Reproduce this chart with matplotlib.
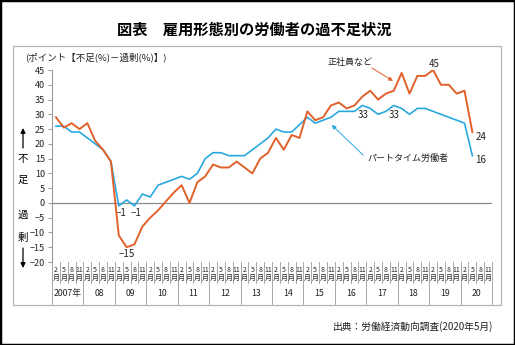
import numpy as np
import matplotlib.pyplot as plt
from matplotlib.patches import Rectangle

plt.rcParams['font.family'] = ['Noto Sans CJK JP', 'DejaVu Sans']

# quarterly survey months, 2007-02 .. 2020-05
years = list(range(2007, 2021))
months = [2, 5, 8, 11]
year_labels = ['2007年'] + [f'{y % 100:02d}' for y in years[1:]]

# 正社員など (points: 不足% - 過剰%)
regular = [29, 25.5, 27, 25, 27, 21, 18, 14,
           -11, -15, -14, -8, -5, -2.5, 0.5, 3.5,
           6, 0, 7, 9, 13, 12, 12, 14,
           12, 10, 15, 17, 22, 18, 23, 22,
           31, 28, 29, 33, 34, 32, 33, 36,
           38, 35, 37, 38, 44, 37, 43, 43,
           45, 40, 40, 37, 38, 24]

# パートタイム労働者
parttime = [26, 26, 24, 24, 22, 20, 18, 14,
            -1, 1, -1, 3, 2, 6, 7, 8,
            9, 8, 10, 15, 17, 17, 16, 16,
            16, 18, 20, 22, 25, 24, 24, 26.5,
            29, 27, 28, 29, 31, 31, 31, 33,
            32, 30, 31, 33, 32, 30, 32, 32,
            31, 30, 29, 28, 27, 16]

ORANGE = '#e0612b'
BLUE = '#29a8df'
GREY = '#9a9a9a'

W, H = 515, 345
fig = plt.figure(figsize=(W / 100, H / 100), dpi=100)


def fx(px):
    return px / W


def fy(py):
    return 1 - py / H


ax = fig.add_axes([fx(52), fy(262), fx(440), 192 / H])

x = np.arange(len(regular))
ax.axhline(0, color='#8a8a8a', lw=0.9, zorder=1)
ax.plot(x, parttime, color=BLUE, lw=1.2, zorder=3)
ax.plot(x, regular, color=ORANGE, lw=1.4, zorder=4)

ax.set_xlim(-0.5, len(years) * 4 - 0.5)
ax.set_ylim(-20, 45)
ax.set_yticks(np.arange(-20, 46, 5))
ax.set_xticks([])
for s in ['top', 'right', 'bottom']:
    ax.spines[s].set_visible(False)
ax.spines['left'].set_color(GREY)
ax.spines['left'].set_linewidth(0.8)
ax.tick_params(axis='y', length=3, width=0.7, color=GREY, labelsize=6.5,
               pad=2, labelcolor='#222222')


def fmt(v):
    return f'{v:g}'.replace('-', '−')


# value labels
def label(i, series, dx, dy, **kw):
    ax.text(i + dx, series[i] + dy, fmt(series[i]), fontsize=7,
            ha='center', va='center', color='#222222', **kw)


label(8, parttime, 0.35, -2.3)
label(10, parttime, 0.25, -2.3)
label(9, regular, 0.0, -2.4)
label(39, parttime, 0.1, -3.3)
label(43, parttime, 0.0, -3.3)
label(48, regular, 0.1, 2.1)
label(53, regular, 1.05, -1.6)
label(53, parttime, 1.05, -1.4)

# series names with pointer arrows
ax.text(34.6, 47.7, '正社員など', fontsize=6.5, ha='left', va='center',
        color='#222222')
ax.annotate('', xy=(42.9, 41.3), xytext=(40.2, 45.7),
            arrowprops=dict(arrowstyle='-|>', color=ORANGE, lw=0.7,
                            mutation_scale=6, shrinkA=0, shrinkB=0),
            annotation_clip=False)
ax.text(39.7, 15.2, 'パートタイム労働者', fontsize=6.5, ha='left',
        va='center', color='#222222')
ax.annotate('', xy=(35.1, 26.4), xytext=(39.1, 16.2),
            arrowprops=dict(arrowstyle='-|>', color=BLUE, lw=0.7,
                            mutation_scale=6, shrinkA=0, shrinkB=0))

# month / year axis drawn below the plot
tr = ax.get_xaxis_transform()
n = len(years) * 4
for k in range(n + 1):
    xs = k - 0.5
    bottom = -0.224 if k % 4 == 0 else -0.109
    ax.plot([xs, xs], [0, bottom], color=GREY, lw=0.6, transform=tr,
            clip_on=False)
for k in range(n):
    m = months[k % 4]
    ax.text(k, -0.040, str(m), transform=tr, fontsize=5, ha='center',
            va='center', color='#222222')
    ax.text(k, -0.083, '月', transform=tr, fontsize=5, ha='center',
            va='center', color='#222222')
for j, lab in enumerate(year_labels):
    ax.text(4 * j + 1.5, -0.162, lab, transform=tr, fontsize=6.3,
            ha='center', va='center', color='#222222')

# titles and side captions
fig.text(fx(254), fy(30), '図表　雇用形態別の労働者の過不足状況',
         ha='center', va='center', fontsize=11, fontweight='bold')
fig.text(fx(25), fy(57), '(ポイント【不足(%)－過剰(%)】)', ha='left',
         va='center', fontsize=6.8, color='#222222')
fig.text(fx(493), fy(327), '出典：労働経済動向調査(2020年5月)', ha='right',
         va='center', fontsize=7, color='#222222')

for ch, py in [('不', 159), ('足', 180), ('過', 215), ('剰', 238)]:
    fig.text(fx(23), fy(py), ch, ha='center', va='center', fontsize=7.5)
fig.add_artist(plt.Annotation('', xy=(fx(23), fy(128)), xytext=(fx(23), fy(148)),
                              xycoords='figure fraction',
                              arrowprops=dict(arrowstyle='-|>', color='black',
                                              lw=0.9, mutation_scale=7,
                                              shrinkA=0, shrinkB=0)))
fig.add_artist(plt.Annotation('', xy=(fx(23), fy(268)), xytext=(fx(23), fy(248)),
                              xycoords='figure fraction',
                              arrowprops=dict(arrowstyle='-|>', color='black',
                                              lw=0.9, mutation_scale=7,
                                              shrinkA=0, shrinkB=0)))

# frames
fig.add_artist(Rectangle((fx(13), fy(305)), fx(488), 259 / H,
                         transform=fig.transFigure, fill=False,
                         edgecolor='#b5b5b5', lw=0.9))
fig.add_artist(Rectangle((0, 0), 1, 1, transform=fig.transFigure,
                         fill=False, edgecolor='black', lw=2.5))

fig.savefig('out.png', dpi=100)
